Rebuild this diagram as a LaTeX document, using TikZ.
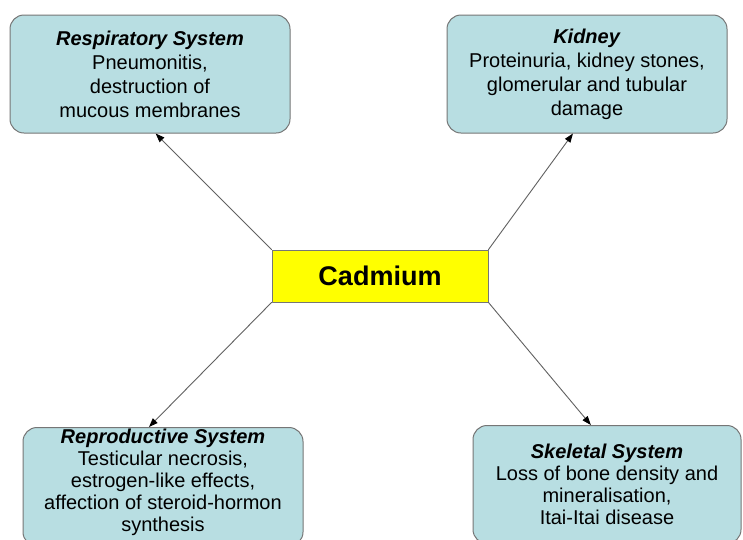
\documentclass[tikz,border=0pt]{standalone}
\usepackage{fontspec}
\setmainfont{Liberation Sans}
\usetikzlibrary{arrows.meta,calc}

\definecolor{organblue}{RGB}{184,222,226}
\definecolor{framegray}{RGB}{118,118,118}
\definecolor{metalyellow}{RGB}{255,255,0}

\begin{document}
\begin{tikzpicture}[x=1pt,y=-1pt,line cap=round,line join=round,
    organ/.style={draw=framegray,fill=organblue,line width=1pt,rounded corners=14pt,
      minimum width=280pt,minimum height=118pt,align=center,inner sep=2pt,
      font=\fontsize{20}{24}\selectfont},
    metal/.style={draw=framegray,fill=metalyellow,line width=1pt,
      minimum width=216pt,minimum height=52pt,font=\fontsize{27}{32}\selectfont\bfseries},
    effect/.style={-{Triangle[length=9pt,width=6.5pt,color=black]},draw=black!62,line width=.9pt}]
    \fill[white] (0,0) rectangle (743,539);
    \useasboundingbox (0,0) rectangle (743,539);
    % centre
    \node[metal] (cad) at (380,276) {Cadmium};
    % effects on organs
    \node[organ] (resp) at (150,74)
      {\textbf{\textit{Respiratory System}}\\Pneumonitis,\\destruction of\\mucous membranes};
    \node[organ] (kid) at (587,74)
      {\textbf{\textit{Kidney}}\\Proteinuria, kidney stones,\\glomerular and tubular\\damage};
    \node[organ,anchor=north,minimum height=0pt,inner ysep=1pt,
      font=\fontsize{20}{22}\selectfont] (repro) at (163,427)
      {\textbf{\textit{Reproductive System}}\\Testicular necrosis,\\estrogen-like effects,\\affection of steroid-hormon\\synthesis\rule[-14pt]{0pt}{14pt}};
    \node[organ,anchor=north,minimum width=268pt,font=\fontsize{20}{22}\selectfont] (skel) at (607,425)
      {\textbf{\textit{Skeletal System}}\\Loss of bone density and\\mineralisation,\\Itai-Itai disease};
    % arrows
    \draw[effect] (cad.north west) -- ($(resp.south west)!.52!(resp.south east)$);
    \draw[effect] (cad.north east) -- ($(kid.south west)!.45!(kid.south east)$);
    \draw[effect] (cad.south west) -- ($(repro.north west)!.45!(repro.north east)$);
    \draw[effect] (cad.south east) -- ($(skel.north west)!.44!(skel.north east)$);
\end{tikzpicture}
\end{document}
